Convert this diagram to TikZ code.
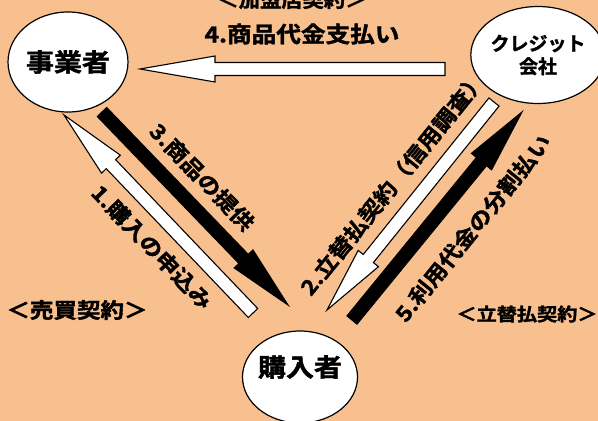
\documentclass[tikz,border=0pt]{standalone}
\usepackage{fontspec}
\setmainfont{Noto Sans CJK JP}[BoldFont={Noto Sans CJK JP Bold}, BoldFeatures={FakeBold=1.6}]
\usetikzlibrary{shapes,calc}
\definecolor{peach}{RGB}{249,192,143}

\newcommand{\wide}[1]{\scalebox{1.12}[1]{#1}}
% block arrow: fill, tail, tip, head length
\newcommand{\blockarrow}[4]{%
  \coordinate (hb) at ($(#3)!#4!(#2)$);
  \draw[arrow line, fill=#1] ($(#2)!6.5pt!90:(#3)$) -- ($(hb)!6.5pt!90:(#3)$)
    -- ($(hb)!13pt!90:(#3)$) -- (#3) -- ($(hb)!13pt!-90:(#3)$)
    -- ($(hb)!6.5pt!-90:(#3)$) -- ($(#2)!6.5pt!-90:(#3)$) -- cycle;
}

\begin{document}
\begin{tikzpicture}[x=1pt,y=-1pt]
		\tikzstyle {party} = [draw, ellipse, line width=1.2pt, fill=white, inner sep=0pt, font=\bfseries]
		\tikzstyle {arrow line} = [line width=1.1pt, line join=miter]
		\tikzstyle {lab} = [inner sep=0pt, font=\bfseries\fontsize{21}{21}\selectfont]

		\fill[peach] (0,0) rectangle (598,421);
		\useasboundingbox (0,0) rectangle (598,421);

		\node[party, minimum width=120, minimum height=100, font=\bfseries\fontsize{25}{25}\selectfont] (jigyo) at (68,62) {\wide{事業者}};
		\node[party, minimum width=114, minimum height=97, align=center, font=\bfseries\fontsize{19}{23}\selectfont] (credit) at (538,55) {クレジット\\会社};
		\node[party, minimum width=115, minimum height=92] (kounyu) at (300,377) {};
		\node[inner sep=0pt, font=\bfseries\fontsize{25}{25}\selectfont] (kounyutxt) at (300,367) {\wide{購入者}};

		\coordinate (a1s) at (253,313);
		\coordinate (a1e) at (64,115);
		\coordinate (a2s) at (494,102);
		\coordinate (a2e) at (327,310);
		\coordinate (a3s) at (102,112);
		\coordinate (a3e) at (288,305);
		\coordinate (a4s) at (445,69);
		\coordinate (a4e) at (140,69);
		\coordinate (a5s) at (352,320);
		\coordinate (a5e) at (522,112);

		\blockarrow{white}{a1s}{a1e}{68pt}
		\blockarrow{white}{a2s}{a2e}{66pt}
		\blockarrow{black}{a3s}{a3e}{64pt}
		\blockarrow{white}{a4s}{a4e}{75pt}
		\blockarrow{black}{a5s}{a5e}{64pt}

		\node[lab, font=\bfseries\fontsize{19}{19}\selectfont] (kamei) at (292,0) {\wide{＜加盟店契約＞}};
		\node[lab, font=\bfseries\fontsize{22}{22}\selectfont] (t4) at (302,34) {\wide{4.商品代金支払い}};
		\node[lab, rotate=-46] (t3) at (202,177) {\wide{3.商品の提供}};
		\node[lab, rotate=-46] (t1) at (152,247) {\wide{1.購入の申込み}};
		\node[lab, rotate=51] (t2) at (393,183) {\wide{2.立替払契約（信用調査）}};
		\node[lab, rotate=51] (t5) at (473,228) {\wide{5.利用代金の分割払い}};
		\node[lab] (baibai) at (77,310) {\wide{＜売買契約＞}};
		\node[lab, font=\bfseries\fontsize{18}{18}\selectfont] (tatekae) at (527,314) {\wide{＜立替払契約＞}};
	\end{tikzpicture}
\end{document}
